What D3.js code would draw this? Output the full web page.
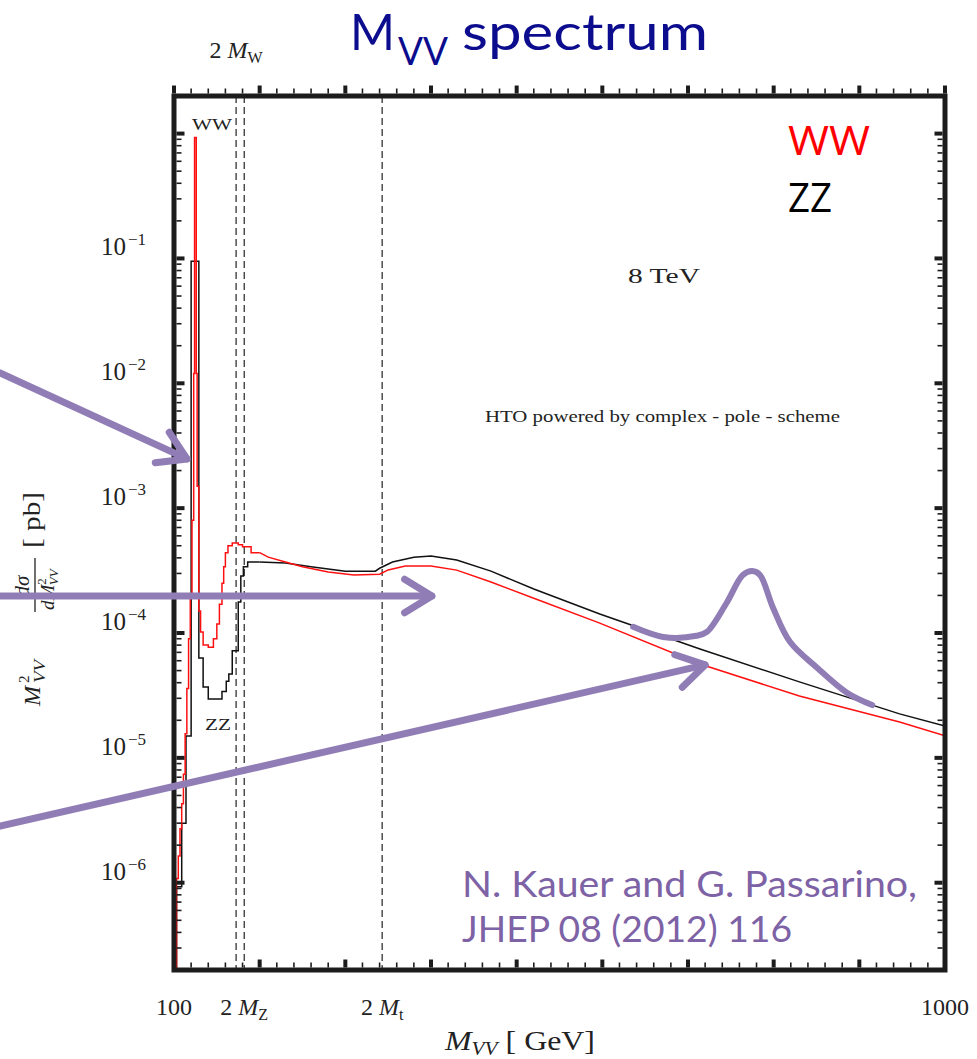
<!DOCTYPE html>
<html>
<head>
<meta charset="utf-8">
<script src="https://cdn.jsdelivr.net/npm/d3@7"></script>
<style>
  body { margin: 0; background: #fff; }
  svg { display: block; }
</style>
</head>
<body>
<svg id="chart" width="977" height="1059"></svg>
<script>
// ---------------- data ----------------
const massDomain = [100, 1000];           // GeV
const xsecDomain = [2e-7, 2];             // pb
const massMajorTicks = d3.range(100, 1001, 100);
const massMinorTicks = d3.range(100, 1001, 20);
const decadeExponents = [-1, -2, -3, -4, -5, -6];

// WW: fine-binned histogram around the Higgs peak and the WW threshold
const wwBinEdges  = [100, 103, 105, 107, 109, 111, 113, 115, 117, 119, 121, 123, 124, 126, 127, 129,
                     131, 134, 140, 146, 150, 153, 156, 158, 160, 163, 168, 175, 180, 190, 200];
const wwBinValues = [1e-7, 1.08e-6, 1.64e-6, 2.7e-6, 4.3e-6, 7.4e-6, 1.56e-5, 3.6e-5, 9e-5, 2.05e-4,
                     8e-4, 1.2e-2, 0.93, 1.2e-2, 1.5e-3, 1.5e-4, 1.02e-4, 8e-5, 7.7e-5, 9e-5,
                     1.18e-4, 1.7e-4, 2.5e-4, 3.4e-4, 4.4e-4, 5e-4, 5.25e-4, 5.1e-4, 4.9e-4, 4.4e-4];
// WW continuum above 200 GeV
const wwTailMass   = [200, 210, 230, 250, 280, 310, 340, 350, 370, 400, 430, 470, 520, 597, 714, 830, 947, 1000];
const wwTailValues = [4.4e-4, 4.05e-4, 3.7e-4, 3.4e-4, 3.08e-4, 2.91e-4, 2.96e-4, 3.2e-4, 3.44e-4, 3.44e-4,
                      3.19e-4, 2.56e-4, 1.9e-4, 1.2e-4, 5.65e-5, 3.13e-5, 1.94e-5, 1.5e-5];

// ZZ: coarser histogram in the same region
const zzBinEdges  = [100, 103, 109, 114, 120, 129, 134, 140, 156, 161, 164, 168, 175, 178, 181, 186, 200];
const zzBinValues = [1e-7, 9.3e-7, 3e-6, 1.5e-5, 0.095, 6.3e-5, 3.7e-5, 2.96e-5, 3.4e-5, 4.1e-5, 4.7e-5,
                     7.2e-5, 1.77e-4, 2.86e-4, 3.4e-4, 3.7e-4];
const zzTailMass   = [200, 230, 260, 300, 335, 340, 355, 380, 400, 430, 470, 520, 597, 714, 830, 947, 1000];
const zzTailValues = [3.7e-4, 3.63e-4, 3.4e-4, 3.13e-4, 3.13e-4, 3.3e-4, 3.7e-4, 4.05e-4, 4.13e-4, 3.85e-4,
                      3.13e-4, 2.25e-4, 1.42e-4, 7.45e-5, 4.06e-5, 2.25e-5, 1.8e-5];

// pair-production thresholds (dashed verticals)
const thresholdNames  = ["W", "Z", "t"];
const thresholdMasses = [172.5, 182, 343];

// hand-drawn heavy-resonance sketch (mass, pb)
const bumpMass   = [636, 671, 710, 722, 745, 764, 775, 784, 799, 819, 851, 886, 915];
const bumpValues = [1.12e-4, 9.3e-5, 9.5e-5, 1.02e-4, 1.74e-4, 2.92e-4, 3.14e-4, 2.92e-4, 1.61e-4,
                    8.5e-5, 5.25e-5, 3.31e-5, 2.65e-5];

// annotation arrows: [start mass, start pb, tip mass, tip pb]
const arrowSpecs = [
  [-103, 1.21e-2, 115.2, 2.48e-3],
  [-103, 1.98e-4, 401, 1.98e-4],
  [-103, 2.84e-6, 720, 5.55e-5]
];

// ---------------- layout ----------------
const svg = d3.select("#chart");
const plotL = 174, plotR = 945, plotT = 96, plotB = 970;
const x = d3.scaleLinear().domain(massDomain).range([plotL, plotR]);
const y = d3.scaleLog().domain(xsecDomain).range([plotB, plotT]);

const serif = "'Liberation Serif', 'Times New Roman', serif";
const sans = "'Open Sans', 'Noto Sans', sans-serif";
const humanist = "Lato, 'Open Sans', sans-serif";
const ink = "#222";
const purple = "#917db6";

svg.append("rect").attr("width", 977).attr("height", 1059).attr("fill", "#fff");

svg.append("defs").append("clipPath").attr("id", "plotClip")
  .append("rect").attr("x", plotL).attr("y", plotT).attr("width", plotR - plotL).attr("height", plotB - plotT);

// ---------------- threshold lines ----------------
svg.append("g").selectAll("line").data(thresholdMasses).join("line")
  .attr("x1", d => x(d)).attr("x2", d => x(d))
  .attr("y1", plotT).attr("y2", plotB)
  .attr("stroke", "#333").attr("stroke-width", 1.3).attr("stroke-dasharray", "7,4");

// ---------------- curves ----------------
const stepLine = d3.line().x(d => x(d[0])).y(d => y(d[1])).curve(d3.curveStepAfter);
const tailLine = d3.line().x(d => x(d[0])).y(d => y(d[1]));
const curves = svg.append("g").attr("clip-path", "url(#plotClip)");

function drawSeries(edges, values, tailM, tailV, color) {
  const hist = edges.map((e, i) => [e, values[Math.min(i, values.length - 1)]]);
  curves.append("path").attr("d", stepLine(hist))
    .attr("fill", "none").attr("stroke", color).attr("stroke-width", 1.5);
  curves.append("path").attr("d", tailLine(tailM.map((m, i) => [m, tailV[i]])))
    .attr("fill", "none").attr("stroke", color).attr("stroke-width", 1.5);
}
drawSeries(zzBinEdges, zzBinValues, zzTailMass, zzTailValues, "#111");
drawSeries(wwBinEdges, wwBinValues, wwTailMass, wwTailValues, "#ff1010");

// ---------------- frame and ticks ----------------
const frame = svg.append("g").attr("stroke", "#1c1c1c");
frame.append("rect").attr("x", plotL).attr("y", plotT).attr("width", plotR - plotL).attr("height", plotB - plotT)
  .attr("fill", "none").attr("stroke-width", 5);

const half = 2.5;
// bottom ticks point into the plot, top ticks stand outside the frame
function xTicks(values, len, w) {
  values.forEach(v => {
    frame.append("line").attr("x1", x(v)).attr("x2", x(v))
      .attr("y1", plotB - half).attr("y2", plotB - half - len).attr("stroke-width", w);
    frame.append("line").attr("x1", x(v)).attr("x2", x(v))
      .attr("y1", plotT - half).attr("y2", plotT - half - len).attr("stroke-width", w);
  });
}
xTicks(massMinorTicks.filter(v => v % 100 !== 0), 5, 1.6);
xTicks(massMajorTicks, 8, 4);

const yMajor = d3.range(-6, 1).map(e => Math.pow(10, e));
const yMinor = [];
d3.range(-7, 1).forEach(e => d3.range(2, 10).forEach(k => {
  const v = k * Math.pow(10, e);
  if (v > xsecDomain[0] && v < xsecDomain[1]) yMinor.push(v);
}));
function yTicks(values, len, w) {
  values.forEach(v => {
    frame.append("line").attr("y1", y(v)).attr("y2", y(v))
      .attr("x1", plotL + half).attr("x2", plotL + half + len).attr("stroke-width", w);
    frame.append("line").attr("y1", y(v)).attr("y2", y(v))
      .attr("x1", plotR - half).attr("x2", plotR - half - len).attr("stroke-width", w);
  });
}
yTicks(yMinor, 5, 1.6);
yTicks(yMajor, 8, 4);

// ---------------- axis labels ----------------
const labels = svg.append("g").attr("fill", ink).attr("font-family", serif);

decadeExponents.forEach(e => {
  labels.append("text").attr("x", 126).attr("y", y(Math.pow(10, e)) - 3)
    .attr("text-anchor", "end").attr("font-size", 25).text("10");
  labels.append("text").attr("x", 128).attr("y", y(Math.pow(10, e)) - 13)
    .attr("font-size", 17).text("\u2212" + Math.abs(e));
});

labels.append("text").attr("x", x(100)).attr("y", 1015).attr("text-anchor", "middle")
  .attr("font-size", 24).text("100");
labels.append("text").attr("x", x(1000)).attr("y", 1015).attr("text-anchor", "middle")
  .attr("font-size", 24).text("1000");

function massLabel(cx, base, sub) {
  const t = labels.append("text").attr("x", cx).attr("y", base).attr("text-anchor", "middle").attr("font-size", 24);
  t.append("tspan").text("2 ");
  t.append("tspan").attr("font-style", "italic").text("M");
  t.append("tspan").attr("font-size", 16).attr("dy", 5).text(sub);
}
massLabel(x(thresholdMasses[0]), 58, thresholdNames[0]);
massLabel(x(thresholdMasses[1]), 1015, thresholdNames[1]);
massLabel(x(thresholdMasses[2]), 1015, thresholdNames[2]);

// x-axis title
{
  const t = labels.append("text").attr("x", 520).attr("y", 1050).attr("text-anchor", "middle")
    .attr("font-size", 27).attr("textLength", 150).attr("lengthAdjust", "spacingAndGlyphs");
  t.append("tspan").attr("font-style", "italic").text("M");
  t.append("tspan").attr("font-style", "italic").attr("font-size", 18).attr("dy", 5).text("VV");
  t.append("tspan").attr("dy", -5).text(" [ GeV]");
}

// y-axis title (rotated)
{
  const g = labels.append("g").attr("transform", "translate(40,600) rotate(-90)");
  g.append("text").attr("x", -106).attr("y", 0).attr("font-size", 24).attr("font-style", "italic").text("M");
  g.append("text").attr("x", -83).attr("y", -11).attr("font-size", 15).text("2");
  g.append("text").attr("x", -83).attr("y", 5).attr("font-size", 16).attr("font-style", "italic")
    .attr("textLength", 23).attr("lengthAdjust", "spacingAndGlyphs").text("VV");
  g.append("text").attr("x", 14).attr("y", -11).attr("text-anchor", "middle")
    .attr("font-size", 21).attr("font-style", "italic").text("dσ");
  g.append("line").attr("x1", -12).attr("x2", 42).attr("y1", -5).attr("y2", -5)
    .attr("stroke", ink).attr("stroke-width", 1.3);
  const den = g.append("text").attr("x", -10).attr("y", 14).attr("font-size", 19).attr("font-style", "italic");
  den.append("tspan").text("dM");
  den.append("tspan").attr("font-style", "normal").attr("font-size", 13).attr("dy", -8).text("2");
  den.append("tspan").attr("font-size", 13).attr("dx", -7).attr("dy", 12).text("VV");
  g.append("text").attr("x", 52).attr("y", 0).attr("font-size", 25)
    .attr("textLength", 56).attr("lengthAdjust", "spacingAndGlyphs").text("[ pb]");
}

// in-plot labels
labels.append("text").attr("x", 192).attr("y", 130).attr("font-size", 17)
  .attr("textLength", 40).attr("lengthAdjust", "spacingAndGlyphs").text("WW");
labels.append("text").attr("x", 205).attr("y", 730).attr("font-size", 17)
  .attr("textLength", 26).attr("lengthAdjust", "spacingAndGlyphs").text("ZZ");
labels.append("text").attr("x", 628).attr("y", 283).attr("font-size", 22)
  .attr("textLength", 72).attr("lengthAdjust", "spacingAndGlyphs").text("8 TeV");
labels.append("text").attr("x", 485).attr("y", 422).attr("font-size", 16)
  .attr("textLength", 355).attr("lengthAdjust", "spacingAndGlyphs").text("HTO powered by complex - pole - scheme");

// legend
svg.append("text").attr("x", 788).attr("y", 155).attr("font-family", sans).attr("font-size", 40)
  .attr("fill", "#ff0000").attr("textLength", 82).attr("lengthAdjust", "spacingAndGlyphs").text("WW");
svg.append("text").attr("x", 788).attr("y", 212).attr("font-family", sans).attr("font-size", 40)
  .attr("fill", "#000").attr("textLength", 44).attr("lengthAdjust", "spacingAndGlyphs").text("ZZ");

// title
{
  const navy = "#0c0c8e";
  svg.append("text").attr("x", 350).attr("y", 50).attr("font-family", humanist).attr("font-size", 50)
    .attr("fill", navy).attr("textLength", 45).attr("lengthAdjust", "spacingAndGlyphs").text("M");
  svg.append("text").attr("x", 398).attr("y", 65).attr("font-family", humanist).attr("font-size", 38)
    .attr("fill", navy).attr("textLength", 50).attr("lengthAdjust", "spacingAndGlyphs").text("VV");
  svg.append("text").attr("x", 462).attr("y", 50).attr("font-family", humanist).attr("font-size", 50)
    .attr("fill", navy).attr("textLength", 246).attr("lengthAdjust", "spacingAndGlyphs").text("spectrum");
}

// ---------------- annotations ----------------
const notes = svg.append("g").attr("stroke", purple).attr("stroke-width", 7)
  .attr("stroke-linecap", "round").attr("stroke-linejoin", "round").attr("fill", "none");

arrowSpecs.forEach(([m0, v0, m1, v1]) => {
  const x0 = x(m0), y0 = y(v0), x1 = x(m1), y1 = y(v1);
  const ang = Math.atan2(y1 - y0, x1 - x0);
  const len = 32, spread = 0.55;
  notes.append("line").attr("x1", x0).attr("y1", y0).attr("x2", x1).attr("y2", y1);
  notes.append("path").attr("d", d3.line()([
    [x1 - len * Math.cos(ang - spread), y1 - len * Math.sin(ang - spread)],
    [x1, y1],
    [x1 - len * Math.cos(ang + spread), y1 - len * Math.sin(ang + spread)]
  ]));
});

notes.append("path").attr("stroke-width", 6)
  .attr("d", d3.line().x(d => x(d[0])).y(d => y(d[1])).curve(d3.curveCatmullRom)(
    bumpMass.map((m, i) => [m, bumpValues[i]])));

// citation
svg.append("text").attr("x", 462).attr("y", 897).attr("font-family", humanist).attr("font-size", 36)
  .attr("fill", "#7d62a6").attr("textLength", 455).attr("lengthAdjust", "spacingAndGlyphs")
  .text("N. Kauer and G. Passarino,");
svg.append("text").attr("x", 462).attr("y", 942).attr("font-family", humanist).attr("font-size", 36)
  .attr("fill", "#7d62a6").attr("textLength", 330).attr("lengthAdjust", "spacingAndGlyphs")
  .text("JHEP 08 (2012) 116");
</script>
</body>
</html>
